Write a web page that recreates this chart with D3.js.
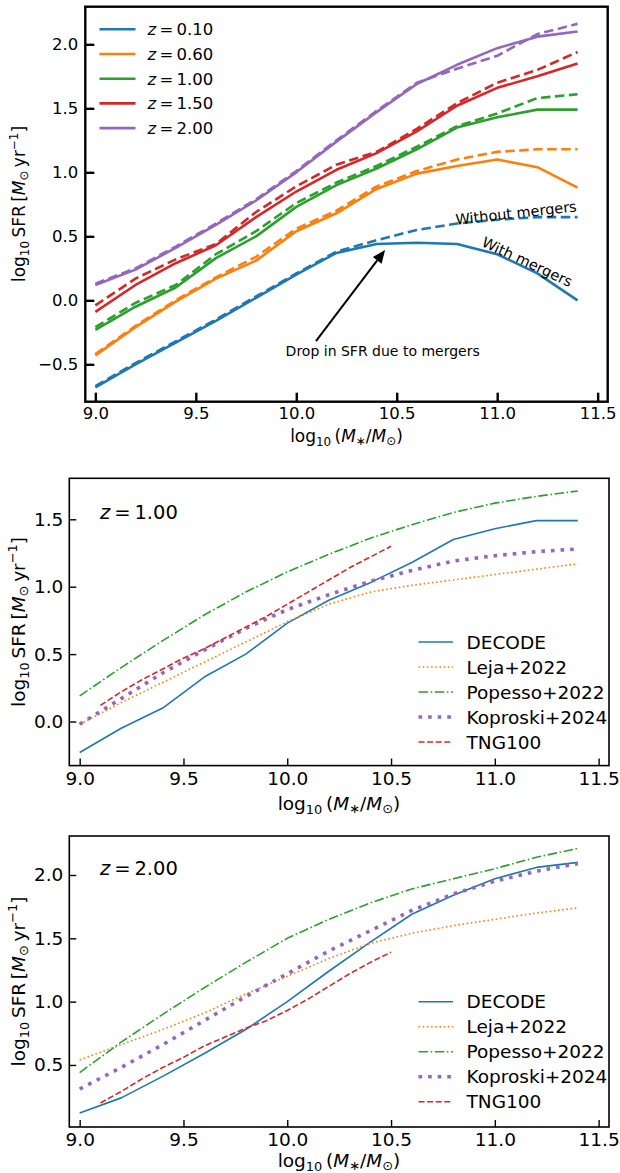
<!DOCTYPE html>
<html>
<head>
<meta charset="utf-8">
<script src="https://cdn.jsdelivr.net/npm/d3@7"></script>
<style>
  html, body { margin: 0; padding: 0; background: #fff; }
  svg { display: block; font-family: "DejaVu Sans", sans-serif; }
</style>
</head>
<body>
<svg id="chart" width="620" height="1173"></svg>
<script>
// ---------------- DATA ----------------
const massGrid = [9.0, 9.2, 9.4, 9.6, 9.8, 10.0, 10.2, 10.4, 10.6, 10.8, 11.0, 11.2, 11.4];
const redshiftLabels = ["0.10", "0.60", "1.00", "1.50", "2.00"];
const sfrWithMergers_z010 = [-0.68, -0.50, -0.33, -0.16, 0.02, 0.20, 0.37, 0.44, 0.45, 0.44, 0.36, 0.21, 0.00];
const sfrWithMergers_z060 = [-0.43, -0.21, -0.01, 0.17, 0.31, 0.54, 0.68, 0.87, 0.99, 1.05, 1.10, 1.04, 0.88];
const sfrWithMergers_z100 = [-0.23, -0.05, 0.10, 0.33, 0.50, 0.73, 0.90, 1.03, 1.18, 1.35, 1.43, 1.49, 1.49];
const sfrWithMergers_z150 = [-0.09, 0.12, 0.29, 0.43, 0.65, 0.85, 1.02, 1.15, 1.32, 1.52, 1.66, 1.75, 1.85];
const sfrWithMergers_z200 = [0.12, 0.24, 0.41, 0.59, 0.78, 1.00, 1.24, 1.47, 1.69, 1.84, 1.97, 2.06, 2.10];
const sfrNoMergers_z010 = [-0.67, -0.49, -0.32, -0.15, 0.03, 0.21, 0.38, 0.47, 0.55, 0.60, 0.63, 0.65, 0.65];
const sfrNoMergers_z060 = [-0.42, -0.20, 0.00, 0.18, 0.34, 0.56, 0.70, 0.89, 1.01, 1.10, 1.16, 1.18, 1.18];
const sfrNoMergers_z100 = [-0.21, -0.02, 0.12, 0.36, 0.54, 0.76, 0.92, 1.05, 1.20, 1.36, 1.46, 1.58, 1.61];
const sfrNoMergers_z150 = [-0.04, 0.17, 0.32, 0.44, 0.69, 0.89, 1.06, 1.16, 1.34, 1.54, 1.70, 1.80, 1.94];
const sfrNoMergers_z200 = [0.13, 0.25, 0.42, 0.60, 0.79, 1.01, 1.25, 1.48, 1.70, 1.81, 1.91, 2.08, 2.16];

// comparison, z = 1.00
const leja_z1 = [-0.02, 0.14, 0.29, 0.44, 0.59, 0.74, 0.87, 0.96, 1.01, 1.05, 1.09, 1.13, 1.17];
const popesso_z1 = [0.19, 0.40, 0.60, 0.79, 0.96, 1.11, 1.24, 1.36, 1.46, 1.55, 1.62, 1.67, 1.71];
const koproski_z1 = [-0.02, 0.17, 0.36, 0.53, 0.69, 0.83, 0.94, 1.04, 1.12, 1.19, 1.23, 1.26, 1.28];
const tngMass = [9.1, 9.2, 9.3, 9.4, 9.5, 9.6, 9.7, 9.8, 9.9, 10.0, 10.1, 10.2, 10.3, 10.4, 10.5];
const tng_z1 = [0.12, 0.22, 0.31, 0.39, 0.47, 0.54, 0.62, 0.70, 0.78, 0.87, 0.96, 1.05, 1.14, 1.22, 1.30];

// comparison, z = 2.00
const leja_z2 = [0.54, 0.66, 0.78, 0.91, 1.06, 1.20, 1.34, 1.46, 1.54, 1.60, 1.65, 1.70, 1.74];
const popesso_z2 = [0.44, 0.68, 0.90, 1.11, 1.31, 1.50, 1.65, 1.78, 1.89, 1.97, 2.05, 2.14, 2.21];
const koproski_z2 = [0.31, 0.48, 0.66, 0.85, 1.04, 1.22, 1.40, 1.56, 1.72, 1.85, 1.95, 2.03, 2.09];
const tng_z2 = [0.20, 0.29, 0.39, 0.48, 0.56, 0.65, 0.72, 0.79, 0.85, 0.93, 1.02, 1.12, 1.22, 1.31, 1.39];

const xTicks = [9.0, 9.5, 10.0, 10.5, 11.0, 11.5];
const yTicksTop = [-0.5, 0.0, 0.5, 1.0, 1.5, 2.0];
const yTicksMid = [0.0, 0.5, 1.0, 1.5];
const yTicksBot = [0.5, 1.0, 1.5, 2.0];
const legendNames = ["DECODE", "Leja+2022", "Popesso+2022", "Koproski+2024", "TNG100"];

// ---------------- DRAWING ----------------
const svg = d3.select("#chart");
const C = ["#1f77b4", "#ff7f0e", "#2ca02c", "#d62728", "#9467bd"];
const fmt = v => (v < 0 ? "\u2212" : "") + Math.abs(v).toFixed(1);

function xLabel(g, x, y, fs) {
  const t = g.append("text").attr("x", x).attr("y", y).attr("text-anchor", "middle")
    .attr("font-size", fs).attr("fill", "#000");
  t.append("tspan").text("log");
  t.append("tspan").attr("font-size", fs * 0.7).attr("dy", fs * 0.22).text("10");
  t.append("tspan").attr("dy", -fs * 0.22).text("\u2009(");
  t.append("tspan").attr("font-style", "italic").text("M");
  t.append("tspan").attr("font-size", fs * 0.7).attr("dy", fs * 0.15).text("\u2217");
  t.append("tspan").attr("dy", -fs * 0.15).text("/");
  t.append("tspan").attr("font-style", "italic").text("M");
  t.append("tspan").attr("font-size", fs * 0.7).attr("dy", fs * 0.15).text("\u2299");
  t.append("tspan").attr("dy", -fs * 0.15).text(")");
}
function yLabel(g, x, y, fs) {
  const t = g.append("text").attr("transform", `translate(${x},${y}) rotate(-90)`)
    .attr("text-anchor", "middle").attr("font-size", fs).attr("fill", "#000");
  t.append("tspan").text("log");
  t.append("tspan").attr("font-size", fs * 0.7).attr("dy", fs * 0.22).text("10");
  t.append("tspan").attr("dy", -fs * 0.22).text("\u2009SFR\u2009[");
  t.append("tspan").attr("font-style", "italic").text("M");
  t.append("tspan").attr("font-size", fs * 0.7).attr("dy", fs * 0.15).text("\u2299");
  t.append("tspan").attr("dy", -fs * 0.15).text("\u2009yr");
  t.append("tspan").attr("font-size", fs * 0.7).attr("dy", -fs * 0.42).text("\u22121");
  t.append("tspan").attr("dy", fs * 0.42).text("]");
}

function makePanel(o) {
  const x = d3.scaleLinear().domain([8.95, 11.55]).range([o.left, o.right]);
  const y = d3.scaleLinear().domain(o.ydom).range([o.bottom, o.top]);
  const g = svg.append("g");
  const clipId = "clip" + Math.round(o.top);
  svg.append("clipPath").attr("id", clipId).append("rect")
    .attr("x", o.left).attr("y", o.top).attr("width", o.right - o.left).attr("height", o.bottom - o.top);
  const plot = g.append("g").attr("clip-path", `url(#${clipId})`);
  // x axis
  const xa = g.append("g").attr("transform", `translate(0,${o.bottom})`)
    .call(d3.axisBottom(x).tickValues(xTicks).tickSize(-o.tick).tickPadding(o.tick + o.xpad).tickFormat(d3.format(".1f")));
  xa.select(".domain").remove();
  xa.selectAll("line").attr("stroke-width", o.tw);
  xa.selectAll("text").attr("font-size", o.fs).attr("font-family", "DejaVu Sans");
  const ya = g.append("g").attr("transform", `translate(${o.left},0)`)
    .call(d3.axisLeft(y).tickValues(o.yticks).tickSize(-o.tick).tickPadding(o.ypad).tickFormat(fmt));
  ya.select(".domain").remove();
  ya.selectAll("line").attr("stroke-width", o.tw);
  ya.selectAll("text").attr("font-size", o.fs).attr("font-family", "DejaVu Sans");
  g.append("rect").attr("x", o.left).attr("y", o.top).attr("width", o.right - o.left)
    .attr("height", o.bottom - o.top).attr("fill", "none").attr("stroke", "#000").attr("stroke-width", o.sw);
  return { x, y, g, plot };
}

function drawLine(p, xs, ys, color, width, dash) {
  const line = d3.line().x((d, i) => p.x(xs[i])).y(d => p.y(d));
  p.plot.append("path").datum(ys).attr("d", line).attr("fill", "none")
    .attr("stroke", color).attr("stroke-width", width)
    .attr("stroke-dasharray", dash || null).attr("stroke-linejoin", "round");
}

// ---- Panel 1 ----
const p1 = makePanel({ left: 85.3, right: 607.7, top: 6.7, bottom: 401.7, ydom: [-0.792, 2.294],
  yticks: yTicksTop, fs: 16.5, tick: 9, tw: 2.4, sw: 2.4, xpad: -3, ypad: 7 });
const withM = [sfrWithMergers_z010, sfrWithMergers_z060, sfrWithMergers_z100, sfrWithMergers_z150, sfrWithMergers_z200];
const noM = [sfrNoMergers_z010, sfrNoMergers_z060, sfrNoMergers_z100, sfrNoMergers_z150, sfrNoMergers_z200];
withM.forEach((s, i) => {
  drawLine(p1, massGrid, noM[i], C[i], 2.6, "9.5,4.5");
  drawLine(p1, massGrid, s, C[i], 2.6, null);
});
// legend
redshiftLabels.forEach((lab, i) => {
  const yy = 29.3 + i * 24.7;
  p1.g.append("line").attr("x1", 99.5).attr("x2", 135.5).attr("y1", yy).attr("y2", yy)
    .attr("stroke", C[i]).attr("stroke-width", 2.6);
  const t = p1.g.append("text").attr("x", 147.5).attr("y", yy + 6).attr("font-size", 16.5);
  t.append("tspan").attr("font-style", "italic").text("z");
  t.append("tspan").text("\u2009=\u20090".slice(0, 3) + lab);
});
// annotations
function rotText(p, xv, yv, ang, txt, fs) {
  p.g.append("text").attr("transform", `translate(${p.x(xv)},${p.y(yv)}) rotate(${ang})`)
    .attr("text-anchor", "middle").attr("dominant-baseline", "central").attr("font-size", fs).text(txt);
}
rotText(p1, 11.094, 0.682, -6.3, "Without mergers", 14.5);
rotText(p1, 11.149, 0.30, 25, "With mergers", 14.5);
rotText(p1, 10.43, -0.395, 0, "Drop in SFR due to mergers", 14);
{
  const x0 = p1.x(10.098), y0 = p1.y(-0.318), x1 = p1.x(10.442), y1 = p1.y(0.393);
  const ang = Math.atan2(y1 - y0, x1 - x0);
  const hl = 13, hw = 5.5;
  const bx = x1 - hl * Math.cos(ang), by = y1 - hl * Math.sin(ang);
  p1.g.append("line").attr("x1", x0).attr("y1", y0).attr("x2", bx).attr("y2", by)
    .attr("stroke", "#000").attr("stroke-width", 2);
  p1.g.append("path").attr("d", `M${x1},${y1} L${bx + hw * Math.sin(ang)},${by - hw * Math.cos(ang)} L${bx - hw * Math.sin(ang)},${by + hw * Math.cos(ang)} Z`)
    .attr("fill", "#000");
}
xLabel(p1.g, 346.5, 442, 17);
yLabel(p1.g, 25, 204, 17);

// ---- comparison panels ----
const styles = [
  { c: C[0], w: 1.6, d: null },
  { c: C[1], w: 1.6, d: "1.6,2.6" },
  { c: C[2], w: 1.6, d: "9.5,2.6,1.6,2.6" },
  { c: C[4], w: 3.6, d: "3.6,6" },
  { c: C[3], w: 1.6, d: "6,2.6" }
];
function comparePanel(o, series, zlab) {
  const p = makePanel(Object.assign({ left: 69.3, right: 609, fs: 18.5, tick: 7, tw: 1.4, sw: 1.6, xpad: -1, ypad: 6 }, o));
  series.forEach((s, i) => drawLine(p, s.x, s.y, styles[i].c, styles[i].w, styles[i].d));
  legendNames.forEach((n, i) => {
    const yy = o.legY + i * 25;
    p.g.append("line").attr("x1", 418.5).attr("x2", 453).attr("y1", yy).attr("y2", yy)
      .attr("stroke", styles[i].c).attr("stroke-width", styles[i].w).attr("stroke-dasharray", styles[i].d || null);
    p.g.append("text").attr("x", 466.5).attr("y", yy + 6.5).attr("font-size", 18.5).text(n);
  });
  const t = p.g.append("text").attr("x", 100).attr("y", o.zY).attr("font-size", 19.5);
  t.append("tspan").attr("font-style", "italic").text("z");
  t.append("tspan").text("\u2009=\u2009" + zlab);
  xLabel(p.g, 339, o.xlabY, 18.5);
  yLabel(p.g, 25, (o.top + o.bottom) / 2, 18.5);
  return p;
}
comparePanel({ top: 478.3, bottom: 765.6, ydom: [-0.327, 1.804], yticks: yTicksMid, legY: 642, zY: 519, xlabY: 810 }, [
  { x: massGrid, y: sfrWithMergers_z100 },
  { x: massGrid, y: leja_z1 },
  { x: massGrid, y: popesso_z1 },
  { x: massGrid, y: koproski_z1 },
  { x: tngMass, y: tng_z1 }
], "1.00");
comparePanel({ top: 836, bottom: 1127, ydom: [0.01, 2.308], yticks: yTicksBot, legY: 1001.7, zY: 875, xlabY: 1167 }, [
  { x: massGrid, y: sfrWithMergers_z200 },
  { x: massGrid, y: leja_z2 },
  { x: massGrid, y: popesso_z2 },
  { x: massGrid, y: koproski_z2 },
  { x: tngMass, y: tng_z2 }
], "2.00");
</script>
</body>
</html>
